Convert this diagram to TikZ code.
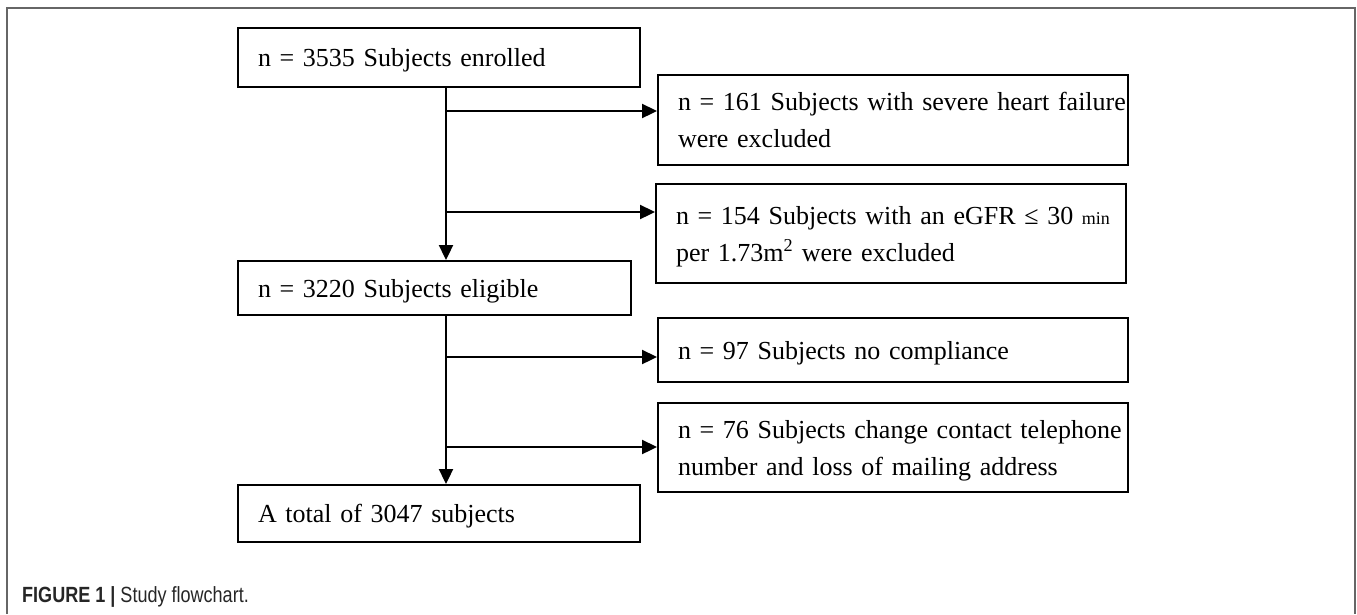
\documentclass[tikz,border=0pt]{standalone}
\usepackage{fontspec}
\setmainfont{Liberation Serif}
\newfontfamily\capfont[FakeStretch=0.82]{Liberation Sans}
\usetikzlibrary{arrows.meta}
\begin{document}
\begin{tikzpicture}[x=1pt,y=-1pt,
  box/.style={draw=black, line width=2pt, anchor=north west, inner xsep=20pt, inner ysep=0pt,
              align=left, text=black, text depth=0pt, font=\fontsize{26}{37}\selectfont},
  twoline/.style={text depth=37pt},
  arr/.style={line width=2.3pt, draw=black, -{Triangle[length=15pt,width=14pt]}},
  frame/.style={draw=black!60, line width=1.3pt}]
\useasboundingbox (0,0) rectangle (1357,614);
% outer frame (open at the bottom)
\draw[frame] (7,614) -- (7,8) -- (1355,8) -- (1355,614);

% left column
\node[box, minimum width=402pt, minimum height=59pt, text width=362pt] (b1) at (237,27)
  {\mbox{n = 3535 Subjects enrolled}};
\node[box, minimum width=393pt, minimum height=54pt, text width=353pt] (b4) at (237,260)
  {\mbox{n = 3220 Subjects eligible}};
\node[box, minimum width=402pt, minimum height=57pt, text width=362pt] (b7) at (237,484)
  {\mbox{A total of 3047 subjects}};

% right column
\node[box, twoline, minimum width=470pt, minimum height=90pt, text width=430pt] (b2) at (657,74)
  {\mbox{n = 161 Subjects with severe heart failure}\\\mbox{were excluded}};
\node[box, twoline, minimum width=470pt, minimum height=99pt, text width=430pt] (b3) at (655,183)
  {\mbox{n = 154 Subjects with an eGFR ≤ 30 {\fontsize{18}{18}\selectfont min}}\\\mbox{per 1.73m\textsuperscript{2} were excluded}};
\node[box, minimum width=470pt, minimum height=64pt, text width=430pt] (b5) at (657,317)
  {\mbox{n = 97 Subjects no compliance}};
\node[box, twoline, minimum width=470pt, minimum height=89pt, text width=430pt] (b6) at (657,402)
  {\mbox{n = 76 Subjects change contact telephone}\\\mbox{number and loss of mailing address}};

% branch points on the trunks
\coordinate (t1) at (446,111);
\coordinate (t2) at (446,212);
\coordinate (t3) at (446,357);
\coordinate (t4) at (446,447);

% connectors
\draw[arr] (b1.south -| t1) -- (b4.north -| t1);
\draw[arr] (t1) -- (t1 -| b2.west);
\draw[arr] (t2) -- (t2 -| b3.west);
\draw[arr] (b4.south -| t3) -- (b7.north -| t3);
\draw[arr] (t3) -- (t3 -| b5.west);
\draw[arr] (t4) -- (t4 -| b6.west);

% caption
\node[anchor=west, inner sep=0pt, text=black!85, font=\capfont\fontsize{22}{22}\selectfont] (cap) at (22,597)
  {\textbf{FIGURE 1 |} Study flowchart.};
\end{tikzpicture}
\end{document}
